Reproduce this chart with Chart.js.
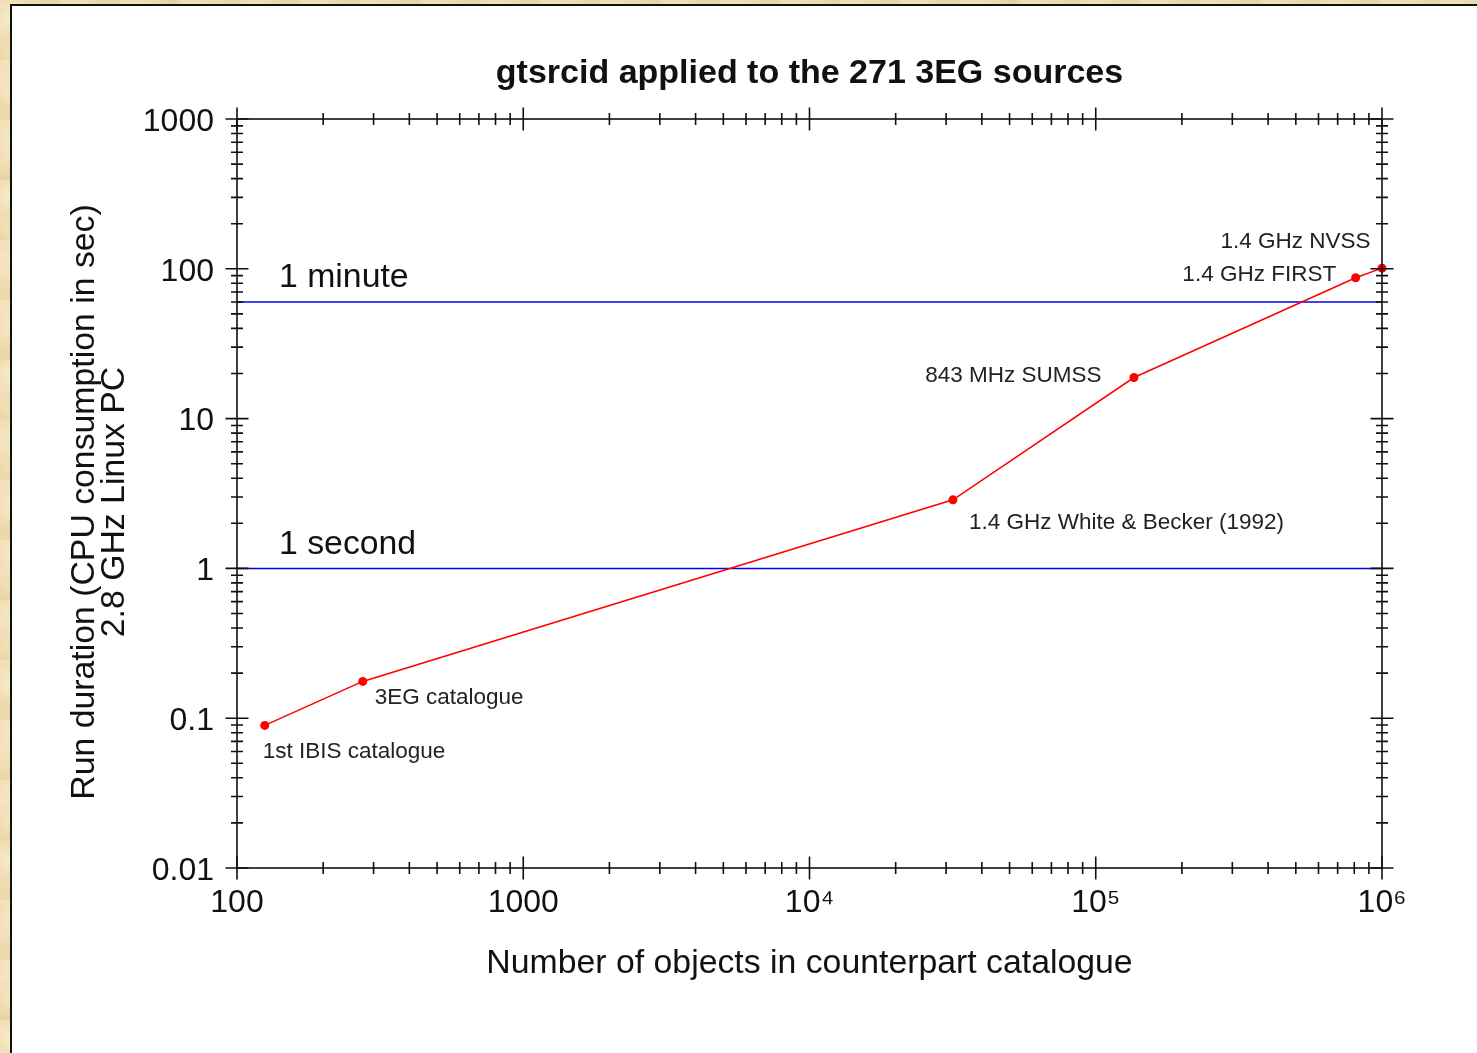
<!DOCTYPE html>
<html>
<head>
<meta charset="utf-8">
<script src="https://cdn.jsdelivr.net/npm/chart.js@4.4.1/dist/chart.umd.min.js"></script>
<style>
html, body { margin: 0; padding: 0; width: 1477px; height: 1053px; overflow: hidden; }
body {
  background-color: #e7d4a6;
  background-image:
    radial-gradient(circle at 20% 30%, rgba(255,245,215,0.55) 0, rgba(255,245,215,0) 40px),
    radial-gradient(circle at 70% 80%, rgba(200,175,120,0.35) 0, rgba(200,175,120,0) 30px),
    radial-gradient(circle at 40% 60%, rgba(250,235,195,0.5) 0, rgba(250,235,195,0) 25px);
  background-size: 60px 60px, 45px 45px, 35px 35px;
}
#panel { position: absolute; left: 10px; top: 4px; width: 1520px; height: 1100px; background: #ffffff; border-left: 2px solid #111; border-top: 2px solid #111; }
#c { position: absolute; left: 0; top: 0; }
</style>
</head>
<body>
<div id="panel"></div>
<canvas id="c" width="1477" height="1053"></canvas>
<script>
// ---- data ----
const catalogueNames = ['1st IBIS catalogue', '3EG catalogue', '1.4 GHz White & Becker (1992)', '843 MHz SUMSS', '1.4 GHz FIRST', '1.4 GHz NVSS'];
const objectCounts = [125, 275, 31700, 136000, 809000, 1000000];
const runSeconds = [0.0895, 0.176, 2.87, 18.8, 87.2, 101];
const limitSeconds = [60, 1];
const limitLabels = ['1 minute', '1 second'];
const xMajorTicks = [100, 1000, 1e4, 1e5, 1e6];
const xTickLabels = ['100', '1000', '10\u2074', '10\u2075', '10\u2076'];
const yMajorTicks = [0.01, 0.1, 1, 10, 100, 1000];
const yTickLabels = ['0.01', '0.1', '1', '10', '100', '1000'];
const chartTitle = 'gtsrcid applied to the 271 3EG sources';
const xAxisTitle = 'Number of objects in counterpart catalogue';
const yAxisTitle = ['Run duration (CPU consumption in sec)', '2.8 GHz Linux PC'];

// ---- helpers ----
function withMinors(majors) {
  const out = [];
  majors.forEach((m, i) => {
    out.push(m);
    if (i < majors.length - 1) for (let k = 2; k <= 9; k++) out.push(+(m * k).toPrecision(6));
  });
  return out;
}
function majorIndex(majors, v) { return majors.findIndex(m => Math.abs(m - v) / m < 1e-6); }

const FONT = '"Liberation Sans", Arial, Helvetica, sans-serif';
Chart.defaults.font.family = FONT;
Chart.defaults.color = '#111';

// label placement (pixel offsets from each point)
const labelPlacement = [
  { dx: -2, dy: 26.5, align: 'left' },
  { dx: 12, dy: 16, align: 'left' },
  { dx: 16, dy: 23, align: 'left' },
  { dx: -32.5, dy: -2, align: 'right' },
  { dx: -19.5, dy: -2.5, align: 'right' },
  { dx: -11.5, dy: -26.5, align: 'right' }
];

const framePlugin = {
  id: 'frame',
  afterDatasetsDraw(chart) {
    const { ctx, chartArea: a, scales: { x, y } } = chart;
    ctx.save();
    ctx.strokeStyle = '#111';
    ctx.lineWidth = 1.6;
    ctx.strokeRect(a.left, a.top, a.right - a.left, a.bottom - a.top);
    ctx.beginPath();
    x.ticks.forEach(t => {
      const px = x.getPixelForValue(t.value);
      const len = majorIndex(xMajorTicks, t.value) >= 0 ? 11.5 : 6;
      ctx.moveTo(px, a.bottom - len); ctx.lineTo(px, a.bottom + len);
      ctx.moveTo(px, a.top - len); ctx.lineTo(px, a.top + len);
    });
    y.ticks.forEach(t => {
      const py = y.getPixelForValue(t.value);
      const len = majorIndex(yMajorTicks, t.value) >= 0 ? 11.5 : 6;
      ctx.moveTo(a.left - len, py); ctx.lineTo(a.left + len, py);
      ctx.moveTo(a.right - len, py); ctx.lineTo(a.right + len, py);
    });
    ctx.stroke();

    // point labels
    ctx.fillStyle = '#222';
    ctx.font = '22.5px ' + FONT;
    ctx.textBaseline = 'middle';
    const pts = chart.getDatasetMeta(0).data;
    pts.forEach((p, i) => {
      const pl = labelPlacement[i];
      ctx.textAlign = pl.align;
      ctx.fillText(catalogueNames[i], p.x + pl.dx, p.y + pl.dy);
    });
    // limit labels
    ctx.fillStyle = '#111';
    ctx.font = '33.8px ' + FONT;
    ctx.textAlign = 'left';
    limitSeconds.forEach((s, i) => {
      const py = y.getPixelForValue(s);
      ctx.fillText(limitLabels[i], x.getPixelForValue(xMajorTicks[0]) + 42, py - 24);
    });

    // y axis title (two rotated lines)
    ctx.save();
    ctx.translate(0, 0);
    ctx.font = '33.8px ' + FONT;
    ctx.textAlign = 'center';
    ctx.textBaseline = 'alphabetic';
    const cy = 502;
    ctx.translate(94, cy);
    ctx.rotate(-Math.PI / 2);
    ctx.fillText(yAxisTitle[0], 0, 0);
    ctx.fillText(yAxisTitle[1], 0, 29.5);
    ctx.restore();
    ctx.restore();
  }
};

const datasets = [{
  label: 'runs',
  data: objectCounts.map((n, i) => ({ x: n, y: runSeconds[i] })),
  borderColor: '#ff0000',
  backgroundColor: '#ff0000',
  borderWidth: 1.5,
  pointRadius: 4.5,
  pointBorderWidth: 0,
  clip: false,
  order: 0
}];
limitSeconds.forEach((s, i) => {
  datasets.push({
    label: limitLabels[i],
    data: [{ x: xMajorTicks[0], y: s }, { x: xMajorTicks[xMajorTicks.length - 1], y: s }],
    borderColor: '#0000ee',
    borderWidth: 1.5,
    pointRadius: 0,
    order: 1
  });
});

new Chart(document.getElementById('c'), {
  type: 'line',
  data: { datasets },
  options: {
    responsive: false,
    animation: false,
    events: [],
    layout: { padding: { left: 0, right: 95, top: 0, bottom: 0 } },
    plugins: {
      legend: { display: false },
      tooltip: { enabled: false },
      title: {
        display: true,
        text: chartTitle,
        fullSize: false,
        color: '#111',
        font: { size: 34, weight: 'bold', lineHeight: 1.2 },
        padding: { top: 53, bottom: 25.2 }
      }
    },
    scales: {
      x: {
        type: 'logarithmic',
        min: 100, max: 1e6,
        afterBuildTicks: s => { s.ticks = withMinors(xMajorTicks).map(v => ({ value: v })); },
        afterFit: s => { s.height = 185; },
        grid: { display: false, drawTicks: false },
        border: { display: false },
        ticks: {
          autoSkip: false, maxRotation: 0, minRotation: 0,
          padding: 16,
          font: { size: 32, lineHeight: 1.2 },
          color: '#111',
          callback: v => { const i = majorIndex(xMajorTicks, v); return i >= 0 ? xTickLabels[i] : ''; }
        },
        title: {
          display: true, text: xAxisTitle, color: '#111',
          font: { size: 33.8, lineHeight: 1.2 },
          padding: { top: 4, bottom: 69 }
        }
      },
      y: {
        type: 'logarithmic',
        min: 0.01, max: 1000,
        afterBuildTicks: s => { s.ticks = withMinors(yMajorTicks).map(v => ({ value: v })); },
        afterFit: s => { s.width = 237; },
        grid: { display: false, drawTicks: false },
        border: { display: false },
        ticks: {
          autoSkip: false,
          padding: 23,
          labelOffset: 3,
          font: { size: 32, lineHeight: 1.2 },
          color: '#111',
          callback: v => { const i = majorIndex(yMajorTicks, v); return i >= 0 ? yTickLabels[i] : ''; }
        },
        title: { display: false }
      }
    }
  },
  plugins: [framePlugin]
});
</script>
</body>
</html>
